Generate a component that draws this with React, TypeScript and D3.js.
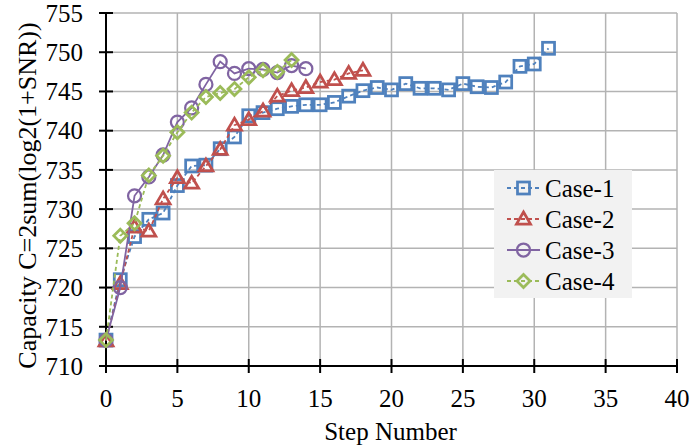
import React, { useEffect, useRef } from 'react';
import * as d3 from 'd3';

// values
const case1 = [713.3, 721.0, 726.5, 728.7, 729.5, 733.0, 735.5, 735.6, 737.7, 739.2, 741.9, 742.3, 742.8, 743.1, 743.3, 743.3, 743.6, 744.4, 745.1, 745.5, 745.2, 746.0, 745.4, 745.4, 745.2, 746.0, 745.6, 745.5, 746.2, 748.2, 748.5, 750.5];
const case2 = [713.2, 720.5, 727.7, 727.2, 731.3, 734.0, 733.3, 735.5, 737.6, 740.7, 741.4, 742.5, 744.4, 745.1, 745.5, 746.2, 746.5, 747.3, 747.7];
const case3 = [713.3, 720.0, 731.7, 734.1, 736.9, 741.1, 742.9, 745.9, 748.8, 747.3, 747.9, 747.8, 747.4, 748.3, 747.9];
const case4 = [713.3, 726.6, 728.2, 734.3, 736.8, 739.8, 742.3, 744.3, 744.8, 745.3, 746.8, 747.7, 747.5, 749.0];

const seriesNames = ['Case-1', 'Case-2', 'Case-3', 'Case-4'];
const seriesColors = ['#4F81BD', '#C0504D', '#8064A2', '#9BBB59'];
const seriesDash = ['4,3', '4,3', null, '4,3'];
const seriesMarker = ['square', 'triangle', 'circle', 'diamond'];

const xTicks = [0, 5, 10, 15, 20, 25, 30, 35, 40];
const yTicks = [710, 715, 720, 725, 730, 735, 740, 745, 750, 755];

const FONT = '"Liberation Serif", "Times New Roman", serif';

const App = () => {
  const svgRef = useRef<SVGSVGElement>(null);

  useEffect(() => {
    const svg = d3.select(svgRef.current);
    svg.selectAll('*').remove();

    const left = 106, right = 677, top = 13, bottom = 366;
    const x = d3.scaleLinear().domain([0, 40]).range([left, right]);
    const y = d3.scaleLinear().domain([710, 755]).range([bottom, top]);

    // grid
    svg.append('g').selectAll('line').data(xTicks.slice(1)).enter().append('line')
      .attr('x1', d => x(d)).attr('x2', d => x(d)).attr('y1', top).attr('y2', bottom)
      .attr('stroke', '#b3b3b3').attr('stroke-width', 1.5);
    svg.append('g').selectAll('line').data(yTicks.slice(1)).enter().append('line')
      .attr('x1', left).attr('x2', right).attr('y1', d => y(d)).attr('y2', d => y(d))
      .attr('stroke', '#b3b3b3').attr('stroke-width', 1.5);

    // axes with cross ticks
    const axes = svg.append('g').attr('stroke', '#000').attr('stroke-width', 2);
    axes.append('line').attr('x1', left).attr('x2', left).attr('y1', top).attr('y2', bottom + 1);
    axes.append('line').attr('x1', left - 1).attr('x2', right).attr('y1', bottom).attr('y2', bottom);
    axes.selectAll('.yt').data(yTicks).enter().append('line').attr('class', 'yt')
      .attr('x1', left - 7).attr('x2', left + 7).attr('y1', d => y(d)).attr('y2', d => y(d));
    axes.selectAll('.xt').data(xTicks).enter().append('line').attr('class', 'xt')
      .attr('x1', d => x(d)).attr('x2', d => x(d)).attr('y1', bottom - 7).attr('y2', bottom + 7);

    svg.append('g').selectAll('text').data(yTicks).enter().append('text')
      .attr('x', 83).attr('y', d => y(d)).attr('dy', '0.35em')
      .attr('text-anchor', 'end').attr('font-family', FONT).attr('font-size', 25)
      .text(d => d);
    svg.append('g').selectAll('text').data(xTicks).enter().append('text')
      .attr('x', d => x(d)).attr('y', 407)
      .attr('text-anchor', 'middle').attr('font-family', FONT).attr('font-size', 25)
      .text(d => d);

    svg.append('text').attr('x', (left + right) / 2 - 1).attr('y', 440)
      .attr('text-anchor', 'middle').attr('font-family', FONT).attr('font-size', 25)
      .text('Step Number');
    svg.append('text').attr('transform', `translate(27,${(top + bottom) / 2 + 6}) rotate(-90)`)
      .attr('text-anchor', 'middle').attr('dominant-baseline', 'central')
      .attr('font-family', FONT).attr('font-size', 26)
      .text('Capacity C=2sum(log2(1+SNR))');

    const drawMarker = (g: any, kind: string, cx: number, cy: number, color: string) => {
      if (kind === 'square') {
        g.append('rect').attr('x', cx - 6).attr('y', cy - 6).attr('width', 12).attr('height', 12)
          .attr('fill', 'none').attr('stroke', color).attr('stroke-width', 2.75);
      } else if (kind === 'triangle') {
        g.append('path').attr('d', `M${cx},${cy - 7}L${cx + 7},${cy + 5}L${cx - 7},${cy + 5}Z`)
          .attr('fill', 'none').attr('stroke', color).attr('stroke-width', 2.75);
      } else if (kind === 'circle') {
        g.append('circle').attr('cx', cx).attr('cy', cy).attr('r', 6.5)
          .attr('fill', 'none').attr('stroke', color).attr('stroke-width', 2.25);
      } else {
        g.append('path').attr('d', `M${cx},${cy - 6.5}L${cx + 6.5},${cy}L${cx},${cy + 6.5}L${cx - 6.5},${cy}Z`)
          .attr('fill', 'none').attr('stroke', color).attr('stroke-width', 2.75);
      }
    };

    const allSeries = [case1, case2, case3, case4];
    const line = d3.line<number>().x((_, i) => x(i)).y(d => y(d));

    allSeries.forEach((data, s) => {
      const g = svg.append('g');
      g.append('path').attr('d', line(data)).attr('fill', 'none')
        .attr('stroke', seriesColors[s]).attr('stroke-width', 1.8)
        .attr('stroke-dasharray', seriesDash[s]);
      data.forEach((d, i) => drawMarker(g, seriesMarker[s], x(i), y(d), seriesColors[s]));
    });

    // legend
    const lg = svg.append('g');
    lg.append('rect').attr('x', 494).attr('y', 170).attr('width', 138).attr('height', 128)
      .attr('fill', '#f2f2f2');
    seriesNames.forEach((name, s) => {
      const ly = 188 + s * 31;
      lg.append('line').attr('x1', 507).attr('x2', 540).attr('y1', ly).attr('y2', ly)
        .attr('stroke', seriesColors[s]).attr('stroke-width', 1.8)
        .attr('stroke-dasharray', seriesDash[s]);
      drawMarker(lg, seriesMarker[s], 523.5, ly, seriesColors[s]);
      lg.append('text').attr('x', 545).attr('y', ly).attr('dy', '0.35em')
        .attr('font-family', FONT).attr('font-size', 25).text(name);
    });
  }, []);

  return (
    <svg ref={svgRef} width={692} height={446} style={{ position: 'absolute', left: 0, top: 0 }}></svg>
  );
};

export default App;
